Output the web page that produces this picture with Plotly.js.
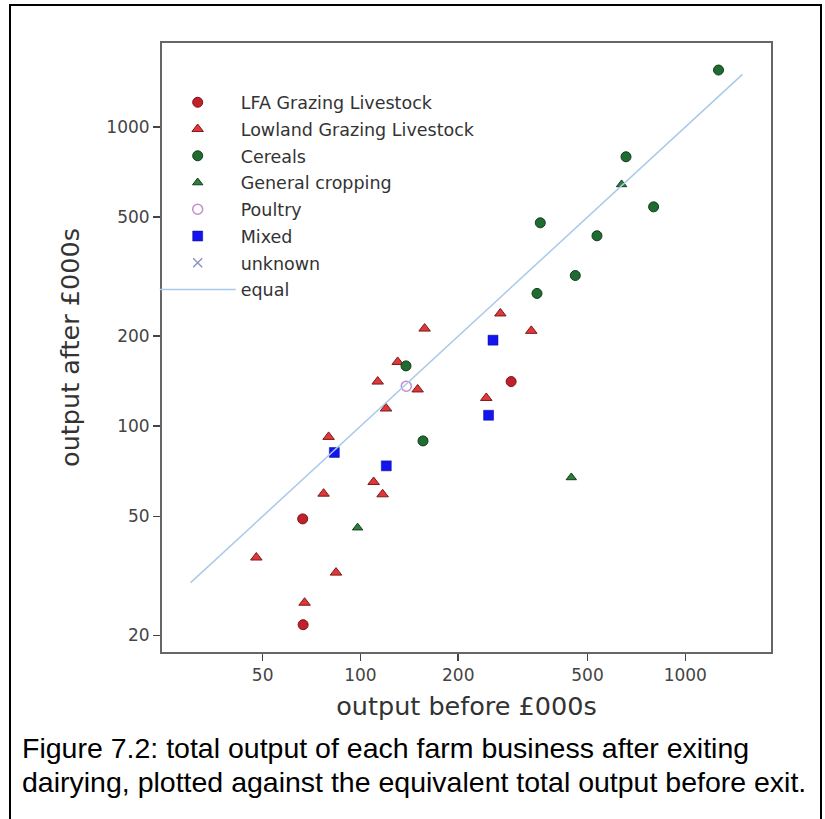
<!DOCTYPE html>
<html>
<head>
<meta charset="utf-8">
<script src="https://cdn.plot.ly/plotly-3.0.1.min.js"></script>
<style>html,body{margin:0;padding:0;background:#fff;}#chart{width:825px;height:819px;}</style>
</head>
<body>
<div id="chart"></div>
<script>
// Category names
const categories = ["LFA Grazing Livestock", "Lowland Grazing Livestock", "Cereals", "General cropping", "Poultry", "Mixed", "unknown", "equal"];

// output before (x) and after (y), £000s
const lfaBefore = [291, 66.4, 66.6];
const lfaAfter  = [141, 49.0, 21.7];

const lowlandBefore = [157.6, 130.2, 113, 150, 119.9, 79.8, 109.8, 77, 117, 47.8, 84.1, 67.3, 269.6, 335.7, 244];
const lowlandAfter  = [212, 164, 141, 132.7, 114.6, 92.1, 65.1, 59.5, 59.2, 36.4, 32.4, 25.7, 238.2, 208.3, 124.3];

const cerealsBefore = [1266, 657, 799, 357.8, 534.8, 458.6, 349.6, 138.1, 155.8];
const cerealsAfter  = [1551, 795.6, 541, 478.5, 433, 319, 277.8, 159.1, 89.3];

const generalBefore = [636.8, 445.8, 98];
const generalAfter  = [643, 67.4, 45.8];

const poultryBefore = [138.4];
const poultryAfter  = [136.1];

const mixedBefore = [255.9, 83.1, 120.1, 248];
const mixedAfter  = [193.9, 81.7, 73.7, 108.8];

// no farms in the "unknown" group are plotted
const unknownBefore = [null];
const unknownAfter  = [null];

const equalLine = [30, 1500];

const xTicks = [50, 100, 200, 500, 1000];
const xTickText = ["50", "100", "200", "500", "1000"];
const yTicks = [20, 50, 100, 200, 500, 1000];
const yTickText = ["20", "50", "100", "200", "500", "1000"];

const captionLines = [
  "Figure 7.2: total output of each farm business after exiting",
  "dairying, plotted against the equivalent total output before exit."
];

const traces = [
  {x: lfaBefore, y: lfaAfter, name: categories[0], legendgroup: "g0", mode: "markers", type: "scatter",
   marker: {symbol: "circle", size: 10, color: "#c2202b", line: {color: "#7a1414", width: 1}}},
  {x: lowlandBefore, y: lowlandAfter, name: categories[1], legendgroup: "g1", mode: "markers", type: "scatter",
   marker: {symbol: "triangle-up", size: 10, color: "#e0383a", line: {color: "#7a1a1a", width: 1}}},
  {x: cerealsBefore, y: cerealsAfter, name: categories[2], legendgroup: "g2", mode: "markers", type: "scatter",
   marker: {symbol: "circle", size: 10, color: "#1f6b32", line: {color: "#0f3d1a", width: 1}}},
  {x: generalBefore, y: generalAfter, name: categories[3], legendgroup: "g3", mode: "markers", type: "scatter",
   marker: {symbol: "triangle-up", size: 9, color: "#2e7d3e", line: {color: "#123d1c", width: 1}}},
  {x: poultryBefore, y: poultryAfter, name: categories[4], legendgroup: "g4", mode: "markers", type: "scatter",
   marker: {symbol: "circle-open", size: 10, color: "#c48ccc", line: {width: 1.5}}},
  {x: mixedBefore, y: mixedAfter, name: categories[5], legendgroup: "g5", mode: "markers", type: "scatter",
   marker: {symbol: "square", size: 10, color: "#1414ee", line: {color: "#0a0a99", width: 0.5}}},
  {x: unknownBefore, y: unknownAfter, name: categories[6], legendgroup: "g6", mode: "markers", type: "scatter",
   showlegend: true,
   marker: {symbol: "x-thin-open", size: 9, color: "#8a96c0", line: {width: 1.5}}},
  {x: equalLine, y: equalLine, name: categories[7], legendgroup: "g7", mode: "lines", type: "scatter",
   line: {color: "#a9c9ea", width: 1.5}}
];

const font = "DejaVu Sans, Arial, sans-serif";
const capFont = {family: "Liberation Sans, Arial, sans-serif", size: 28.5, color: "#000"};

const layout = {
  width: 825, height: 819,
  margin: {l: 162, r: 54, t: 43, b: 167, pad: 0},
  paper_bgcolor: "#ffffff", plot_bgcolor: "#ffffff",
  showlegend: true,
  legend: {x: -0.012, y: 0.932, xanchor: "left", yanchor: "top", bgcolor: "rgba(0,0,0,0)",
           font: {family: font, size: 17.5, color: "#333333"}, itemwidth: 76,
           traceorder: "grouped", tracegroupgap: 1},
  xaxis: {type: "log", range: [1.389, 3.264], tickvals: xTicks, ticktext: xTickText,
          ticks: "outside", ticklen: 7, tickwidth: 1.5, tickcolor: "#444",
          showline: true, mirror: true, linecolor: "#666", linewidth: 2,
          showgrid: false, zeroline: false, automargin: false,
          tickfont: {family: font, size: 17, color: "#444"},
          title: {text: "output before £000s", font: {family: font, size: 25.5, color: "#333"}, standoff: 13}},
  yaxis: {type: "log", range: [1.2452, 3.281], tickvals: yTicks, ticktext: yTickText,
          ticks: "outside", ticklen: 7, tickwidth: 1.5, tickcolor: "#444",
          showline: true, mirror: true, linecolor: "#666", linewidth: 2,
          showgrid: false, zeroline: false, automargin: false,
          tickfont: {family: font, size: 17, color: "#444"},
          title: {text: "output after £000s", font: {family: font, size: 25.5, color: "#333"}, standoff: 19}},
  shapes: [
    {type: "rect", xref: "paper", yref: "paper", x0: -0.2496, x1: 1.0821, y0: -0.28, y1: 1.0624,
     line: {color: "#000", width: 2}, fillcolor: "rgba(0,0,0,0)", layer: "below"}
  ],
  annotations: [
    {xref: "paper", yref: "paper", x: -0.233, y: (652 - 748) / 609, xanchor: "left", yanchor: "middle",
     align: "left", showarrow: false, text: captionLines[0], font: capFont},
    {xref: "paper", yref: "paper", x: -0.233, y: (652 - 782) / 609, xanchor: "left", yanchor: "middle",
     align: "left", showarrow: false, text: captionLines[1], font: capFont}
  ]
};

Plotly.newPlot("chart", traces, layout, {displayModeBar: false, staticPlot: true});
</script>
</body>
</html>
